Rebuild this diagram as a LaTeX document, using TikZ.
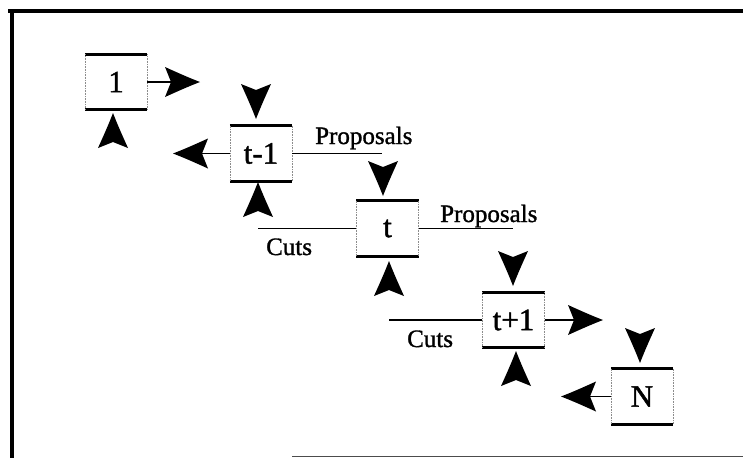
\documentclass[tikz,border=0pt]{standalone}
\usepackage{fontspec}
\setmainfont{Liberation Serif}
\newfontfamily\heavyfont{Liberation Serif}[FakeBold=1.4]
\newfontfamily\labelfont{Liberation Serif}[FakeBold=1.2]
\usetikzlibrary{arrows.meta}
\tikzset{
 boxrule/.style={line width=2.8pt},
 boxside/.style={line width=0.6pt, densely dotted, black!45},
 stagebox/.style={minimum width=62pt, minimum height=55pt, inner sep=0pt,
   font=\heavyfont\fontsize{31}{31}\selectfont,
   append after command={
     (\tikzlastnode.north west) edge[boxrule] (\tikzlastnode.north east)
     (\tikzlastnode.south west) edge[boxrule] (\tikzlastnode.south east)
     (\tikzlastnode.north west) edge[boxside] (\tikzlastnode.south west)
     (\tikzlastnode.north east) edge[boxside] (\tikzlastnode.south east)}},
 link/.style={line width=1.5pt},
 arrowlink/.style={link, shorten >=28pt},
 lbl/.style={font=\labelfont\fontsize{25}{25}\selectfont, inner sep=0pt},
 frameline/.style={line width=3.5pt},
 ahead/.pic={\fill (1,0) .. controls (-12,5) and (-24,10.5) .. (-34,15)
     .. controls (-31,8) .. (-28,0) .. controls (-31,-8) .. (-34,-15)
     .. controls (-24,-10.5) and (-12,-5) .. cycle;},
}
\begin{document}
\begin{tikzpicture}[x=1pt,y=-1pt]
\useasboundingbox (0,0) rectangle (743,458);
% frame
\draw[frameline] (8,11) -- (743,11);
\draw[frameline] (12,9) -- (12,458);
\draw[line width=1.2pt, black!70] (292,456.5) -- (743,456.5);
% stages
\node[stagebox] (b1)  at (116,82)    {1};
\node[stagebox] (btm) at (261,153.5) {t-1};
\node[stagebox] (bt)  at (387.5,228.5) {t};
\node[stagebox] (btp) at (513.5,320) {t+1};
\node[stagebox] (bN)  at (642,396.5) {N};
% free ends
\coordinate (e1)  at (199,82);
\coordinate (etm) at (174,153.5);
\coordinate (ptm) at (382,153.5);
\coordinate (ct)  at (258,228.5);
\coordinate (pt)  at (513,228.5);
\coordinate (ctp) at (389,320);
\coordinate (etp) at (602,320);
\coordinate (eN)  at (562,396.5);
% connectors
\draw[arrowlink] (b1.east) -- (e1);
\draw[arrowlink] (btm.west) -- (etm);
\draw[link] (btm.east) -- (ptm);
\draw[link] (ct) -- (bt.west);
\draw[link] (bt.east) -- (pt);
\draw[link] (ctp) -- (btp.west);
\draw[arrowlink] (btp.east) -- (etp);
\draw[arrowlink] (bN.west) -- (eN);
\pic at (e1) {ahead};
\pic[rotate=180] at (etm) {ahead};
\pic at (etp) {ahead};
\pic[rotate=180] at (eN) {ahead};
% labels
\node[lbl, anchor=base west] (lp1) at (315,144) {Proposals};
\node[lbl, anchor=base west] (lc1) at (266,255) {Cuts};
\node[lbl, anchor=base west] (lp2) at (440,222) {Proposals};
\node[lbl, anchor=base west] (lc2) at (407,347) {Cuts};
% arrowheads above (pointing down)
\pic[rotate=-90] at (256,118) {ahead};
\pic[rotate=-90] at (383,195) {ahead};
\pic[rotate=-90] at (513,285) {ahead};
\pic[rotate=-90] at (640,362) {ahead};
% arrowheads below (pointing up)
\pic[rotate=90] at (113,114) {ahead};
\pic[rotate=90] at (258,183) {ahead};
\pic[rotate=90] at (389,262) {ahead};
\pic[rotate=90] at (516,352) {ahead};
\end{tikzpicture}
\end{document}
